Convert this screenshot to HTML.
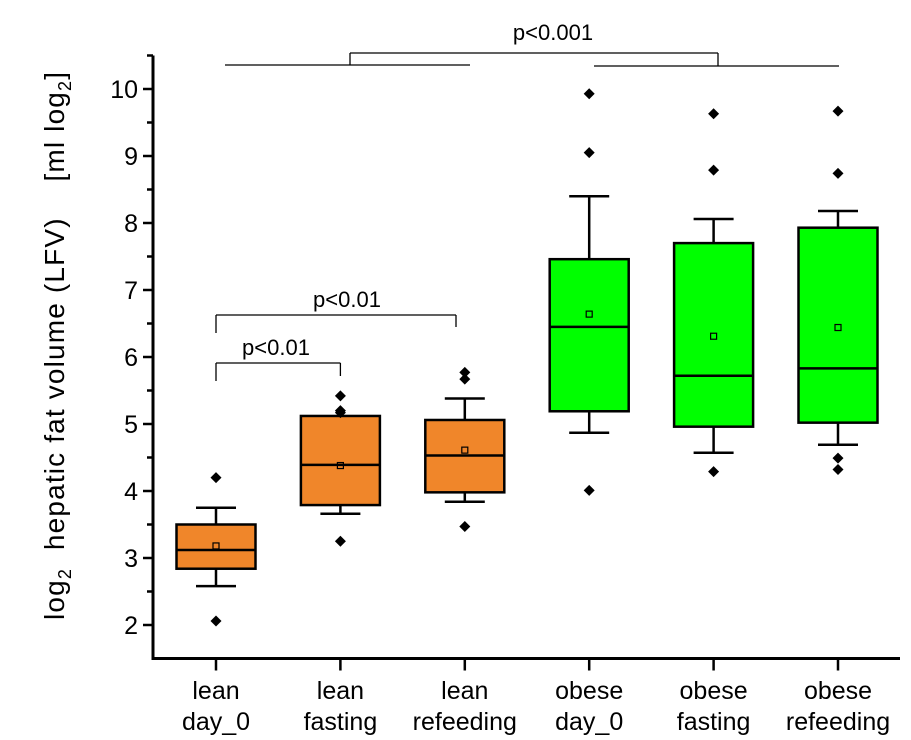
<!DOCTYPE html>
<html><head><meta charset="utf-8"><style>
html,body{margin:0;padding:0;background:#fff;}
svg{display:block;font-family:"Liberation Sans",Arial,sans-serif;}
</style></head><body>
<svg id="chart" width="911" height="740" viewBox="0 0 911 740"></svg>
<script>
const categories = [["lean","day_0"],["lean","fasting"],["lean","refeeding"],["obese","day_0"],["obese","fasting"],["obese","refeeding"]];
const q1 = [2.84, 3.79, 3.98, 5.19, 4.96, 5.02];
const q3 = [3.50, 5.12, 5.06, 7.46, 7.70, 7.93];
const medians = [3.12, 4.39, 4.53, 6.45, 5.72, 5.83];
const means = [3.18, 4.38, 4.61, 6.64, 6.31, 6.44];
const whiskerLow = [2.58, 3.66, 3.84, 4.87, 4.57, 4.69];
const whiskerHigh = [3.75, 5.08, 5.38, 8.40, 8.06, 8.18];
const outliers = [[4.20, 2.06],[5.42, 5.20, 5.17, 3.25],[5.77, 5.67, 3.47],[9.93, 9.05, 4.01],[9.63, 8.79, 4.29],[9.67, 8.74, 4.49, 4.32]];
const colors = ["#f0862a","#f0862a","#f0862a","#00ff00","#00ff00","#00ff00"];
const yTicks = [2,3,4,5,6,7,8,9,10];
const yMin = 1.5, yMax = 10.5;

const NS = "http://www.w3.org/2000/svg";
const svg = document.getElementById("chart");
const X0 = 153, Y0 = 658.5, YT = 55.5, XR = 900;
function y(v){ return Y0 - (v - yMin) / (yMax - yMin) * (Y0 - YT); }
function x(i){ return 216 + i * 124.4; }
function mk(tag, attrs, parent){
  const e = document.createElementNS(NS, tag);
  for (const k in attrs) e.setAttribute(k, attrs[k]);
  (parent || svg).appendChild(e);
  return e;
}
function line(x1,y1,x2,y2,w,parent){ return mk("line",{x1,y1,x2,y2,stroke:"#000","stroke-width":w||1.5},parent); }

const axes = mk("g",{});


line(X0, YT, X0, Y0+1.5, 3, axes);
line(X0-1.5, Y0, XR, Y0, 3, axes);
for (let v = 2; v <= 10.5; v += 0.5) {
  const major = Number.isInteger(v);
  line(X0 - (major ? 10 : 6), y(v), X0, y(v), 2.5, axes);
}
yTicks.forEach(v => {
  const t = mk("text",{x:138, y:y(v)+9, "text-anchor":"end","font-size":25, fill:"#000"}, axes);
  
  
  t.textContent = v;
});
categories.forEach((c,i) => {
  line(x(i), Y0, x(i), Y0+12, 2.5, axes);
  const t = mk("text",{x:x(i), y:699, "text-anchor":"middle","font-size":25, fill:"#000"}, axes);
  
  
  const a = mk("tspan",{x:x(i)}, t); a.textContent = c[0];
  const b = mk("tspan",{x:x(i), dy:31}, t); b.textContent = c[1];
});

const yt = mk("text",{transform:"translate(64,346) rotate(-90)","text-anchor":"middle","font-size":28, fill:"#000", textLength:548, lengthAdjust:"spacing"});


yt.setAttribute("xml:space","preserve");
yt.style.whiteSpace = "pre";
yt.innerHTML = 'log<tspan font-size="18" dy="7">2</tspan><tspan dy="-7">  hepatic fat volume (LFV)    [ml log</tspan><tspan font-size="18" dy="7">2</tspan><tspan dy="-7">]</tspan>';

categories.forEach((c,i) => {
  const g = mk("g",{});
  
  
  const cx = x(i), hw = 39.5, cw = 20;
  line(cx, y(whiskerHigh[i]), cx, y(q3[i]), 2.5, g);
  line(cx, y(q1[i]), cx, y(whiskerLow[i]), 2.5, g);
  line(cx-cw, y(whiskerHigh[i]), cx+cw, y(whiskerHigh[i]), 2.5, g);
  line(cx-cw, y(whiskerLow[i]), cx+cw, y(whiskerLow[i]), 2.5, g);
  mk("rect",{x:cx-hw, y:y(q3[i]), width:2*hw, height:y(q1[i])-y(q3[i]), fill:colors[i], stroke:"#000","stroke-width":2.5}, g);
  line(cx-hw, y(medians[i]), cx+hw, y(medians[i]), 2.5, g);
  const m = mk("rect",{x:cx-3, y:y(means[i])-3, width:6, height:6, fill:"none", stroke:"#000","stroke-width":1.2}, g);
  
  
  outliers[i].forEach(v => {
    const yy = y(v);
    const p = mk("polygon",{points:`${cx},${yy-5.5} ${cx+5.5},${yy} ${cx},${yy+5.5} ${cx-5.5},${yy}`, fill:"#000"}, g);
    
    
  });
});

const sig = mk("g",{});


function txt(s, tx, ty){
  const t = mk("text",{x:tx, y:ty, "text-anchor":"middle","font-size":22, fill:"#000"}, sig);
  
  
  t.textContent = s;
}
line(x(0), 381, x(0), 363, 1.3, sig); line(x(0), 363, x(1), 363, 1.3, sig); line(x(1), 363, x(1), 376, 1.3, sig);
txt("p<0.01", 276, 355);
line(x(0), 333, x(0), 315, 1.3, sig); line(x(0), 315, 456, 315, 1.3, sig); line(456, 315, 456, 327, 1.3, sig);
txt("p<0.01", 347, 307);
line(225, 65, 470, 65, 1.3, sig); line(350, 65, 350, 53, 1.3, sig);
line(350, 53, 718, 53, 1.3, sig); line(718, 53, 718, 66, 1.3, sig);
line(594, 66, 839, 66, 1.3, sig);
txt("p<0.001", 553, 40);
</script>
</body></html>
